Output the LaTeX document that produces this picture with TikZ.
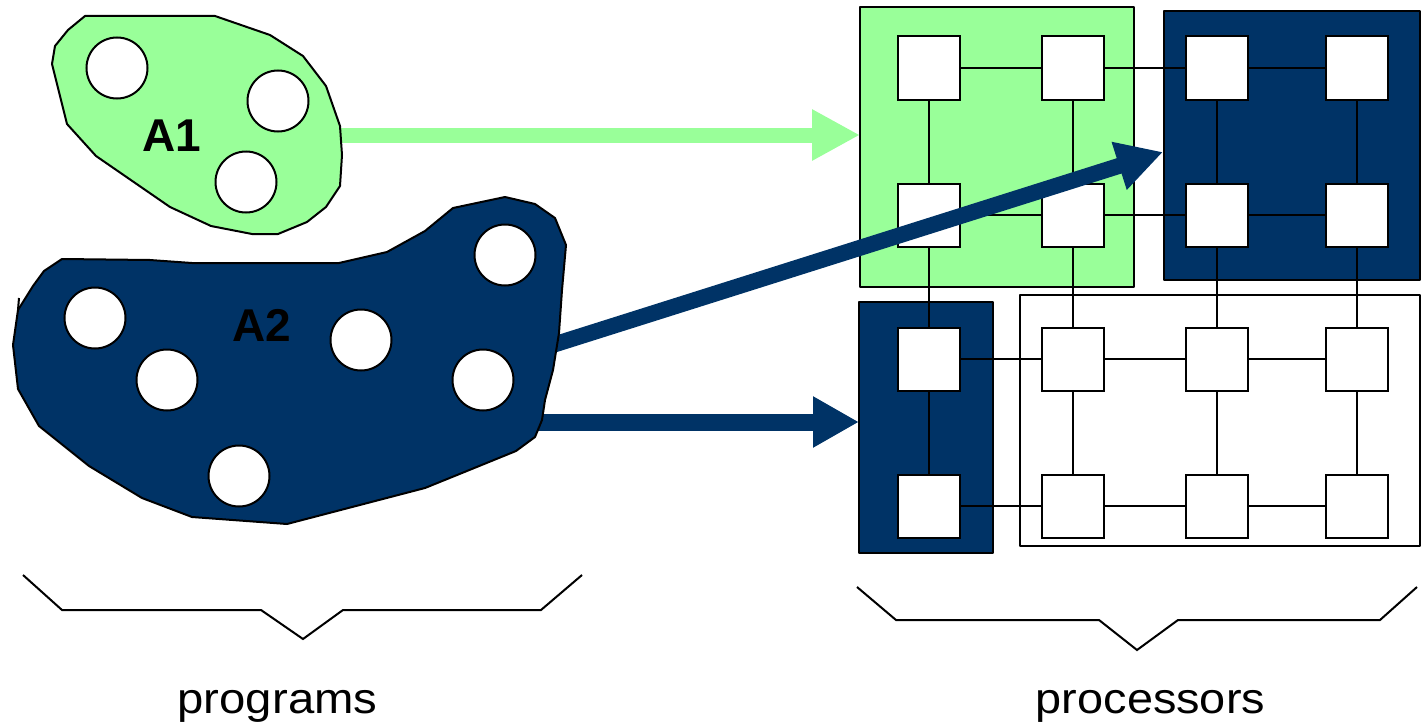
\documentclass[tikz,border=0pt]{standalone}
\usepackage{fontspec}
\setmainfont{Liberation Sans}
\usetikzlibrary{arrows.meta}
\definecolor{lgreen}{RGB}{153,255,153}
\definecolor{dblue}{RGB}{0,51,102}
\begin{document}
\begin{tikzpicture}[x=1pt,y=-1pt,
  outl/.style={line width=2pt, line join=round},
  proc/.style={draw, fill=white, line width=2pt, minimum width=62pt, minimum height=63pt, inner sep=0pt},
  link/.style={line width=2pt},
  task/.style={circle, draw, fill=white, line width=2pt, minimum size=61pt, inner sep=0pt},
  lbl/.style={font=\fontsize{46}{50}\selectfont\bfseries, anchor=base, inner sep=0pt},
  captext/.style={font=\fontsize{43}{48}\selectfont, anchor=base, inner sep=0pt},
  brace/.style={line width=2pt, line join=miter}
]
\useasboundingbox (0,0) rectangle (1426,725);
% processor partitions
\draw[outl, fill=lgreen] (860,7) rectangle (1134,287);
\draw[outl, fill=dblue] (1164,11) rectangle (1420,280);
\draw[outl, fill=dblue] (859,302) rectangle (993,553);
\draw[outl] (1020,295) rectangle (1420,546);
% processors
\foreach \r/\y in {1/68,2/215,3/359,4/506}
  \foreach \c/\x in {1/929,2/1073,3/1217,4/1357}
    \node[proc] (s\r\c) at (\x,\y) {};
\foreach \r in {1,2,3,4}{
  \draw[link] (s\r1) -- (s\r2);
  \draw[link] (s\r2) -- (s\r3);
  \draw[link] (s\r3) -- (s\r4);
}
\foreach \c in {1,2,3,4}{
  \draw[link] (s1\c) -- (s2\c);
  \draw[link] (s2\c) -- (s3\c);
  \draw[link] (s3\c) -- (s4\c);
}
% arrows
\coordinate (ga) at (330,135);
\coordinate (gb) at (860,135);
\coordinate (ba) at (540,349);
\coordinate (bb) at (1163,152);
\coordinate (ca) at (530,422);
\coordinate (cb) at (859,422);
\draw[line width=15pt, lgreen, -{Triangle[length=48pt,width=48pt]}] (ga) -- (gb);
\draw[line width=16pt, dblue, -{Triangle[length=46pt,width=47pt]}] (ba) -- (bb);
\draw[line width=17pt, dblue, -{Triangle[length=46pt,width=48pt]}] (ca) -- (cb);
% program A1
\draw[outl, fill=lgreen] (85,16) -- (215,16) -- (270,35) -- (303,56) -- (326,86) -- (340,126) -- (342,155) -- (340,186) -- (326,207) -- (307,222) -- (278,234) -- (252,234) -- (211,226) -- (170,207) -- (96,156) -- (67,124) -- (52,64) -- (55,46) -- (68,30) -- cycle;
\node[task] (t11) at (117,68) {};
\node[task] (t12) at (278,101) {};
\node[task] (t13) at (246,182) {};
\node[lbl] (A1) at (172,151.7) {A1};
% program A2
\draw[outl, fill=dblue] (62,259) -- (150,260) -- (192,263) -- (339,263) -- (387,252) -- (425,231) -- (453,208) -- (505,197) -- (535,204) -- (555,218) -- (566,245) -- (562,290) -- (559,333) -- (553,370) -- (545,400) -- (542,420) -- (535,437) -- (516,451) -- (462,473) -- (425,488) -- (287,524) -- (192,517) -- (142,498) -- (89,466) -- (39,426) -- (18,389) -- (13,345) -- (18,310) -- (33,286) -- (44,271) -- cycle;
\draw[outl] (18,310) -- (19,298);
\node[task] (t21) at (95,318) {};
\node[task] (t22) at (167,380) {};
\node[task] (t23) at (361,340) {};
\node[task] (t24) at (505,255) {};
\node[task] (t25) at (483,380) {};
\node[task] (t26) at (239,476) {};
\node[lbl] (A2) at (262,341.7) {A2};
% braces
\draw[brace] (23,575) -- (62,610) -- (261,610) -- (303,639) -- (343,610) -- (541,610) -- (582,575);
\draw[brace] (857,587) -- (896,620) -- (1099,620) -- (1137,650) -- (1178,620) -- (1380,620) -- (1417,587);
\node[captext] (prog) at (277.5,713) {\scalebox{1.1}[1]{programs}};
\node[captext] (procs) at (1150.5,713) {\scalebox{1.09}[1]{processors}};
\end{tikzpicture}
\end{document}
